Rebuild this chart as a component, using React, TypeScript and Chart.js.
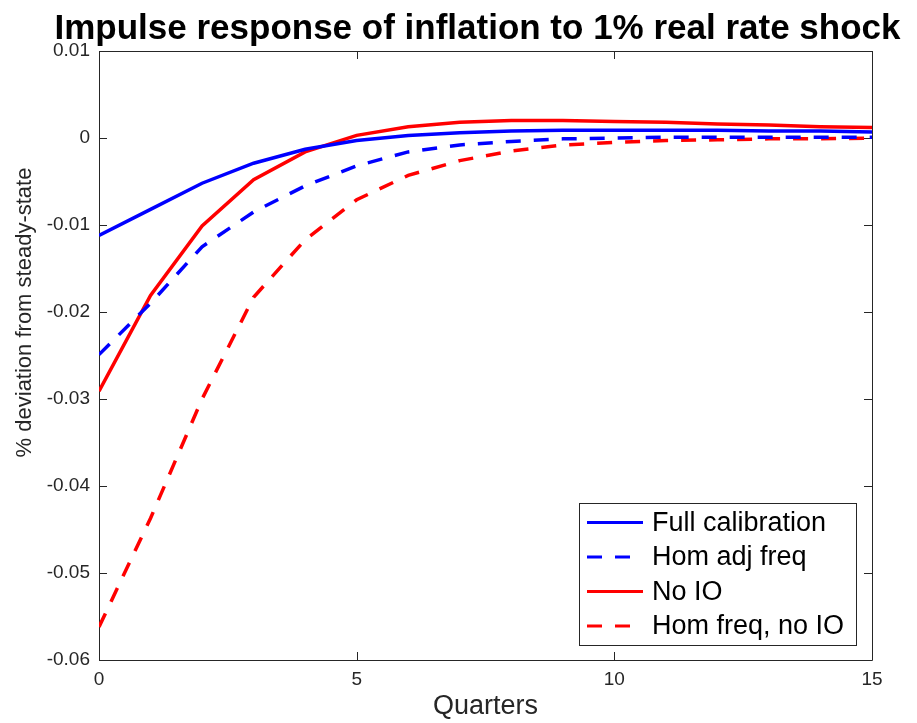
import React, { useEffect, useRef } from "react";
import { Chart, registerables } from "chart.js";

Chart.register(...registerables);

const titleText = "Impulse response of inflation to 1% real rate shock";
const xTitle = "Quarters";
const yTitle = "% deviation from steady-state";

const quarters = [0, 1, 2, 3, 4, 5, 6, 7, 8, 9, 10, 11, 12, 13, 14, 15];

const fullCalibration = [
  -0.0112, -0.0082, -0.0052, -0.0029, -0.0013, -0.0003, 0.0003, 0.0006, 0.0008, 0.0009, 0.0009, 0.0009,
  0.0009, 0.0008, 0.0008, 0.0007,
];
const homAdjFreq = [
  -0.0249, -0.019, -0.0125, -0.0085, -0.0055, -0.0032, -0.0016, -0.0008, -0.0004, -0.0001, 0.0, 0.0001,
  0.0001, 0.0001, 0.0001, 0.0001,
];
const noIO = [
  -0.0291, -0.0181, -0.0101, -0.0048, -0.0016, 0.0003, 0.0013, 0.0018, 0.002, 0.002, 0.0019, 0.0018, 0.0016,
  0.0015, 0.0013, 0.0012,
];
const homFreqNoIO = [
  -0.0562, -0.0437, -0.03, -0.0183, -0.0117, -0.0071, -0.0043, -0.0026, -0.0015, -0.0008, -0.0005, -0.0003,
  -0.0002, -0.0001, -0.0001, 0.0,
];

const seriesNames = ["Full calibration", "Hom adj freq", "No IO", "Hom freq, no IO"];
const seriesColors = ["#0000ff", "#0000ff", "#ff0000", "#ff0000"];
const seriesDashed = [false, true, false, true];

const xMin = 0;
const xMax = 15;
const xStep = 5;
const yMin = -0.06;
const yMax = 0.01;
const yStep = 0.01;

const AXIS_COLOR = "#262626";
const FONT = "'Liberation Sans', Arial, Helvetica, sans-serif";
const DASH = [15, 13];

const framePlugin = {
  id: "matlabFrame",
  beforeDatasetsDraw(chart: any) {
    const { ctx, chartArea } = chart;
    const { left, right, top, bottom } = chartArea;
    const xs = chart.scales.x;
    const ys = chart.scales.y;
    const tl = 8;
    ctx.save();
    ctx.strokeStyle = AXIS_COLOR;
    ctx.lineWidth = 1;
    ctx.beginPath();
    ctx.rect(Math.round(left) + 0.5, Math.round(top) + 0.5, Math.round(right - left), Math.round(bottom - top));
    ctx.stroke();
    ctx.beginPath();
    xs.ticks.forEach((t: any) => {
      const px = Math.round(xs.getPixelForValue(t.value)) + 0.5;
      ctx.moveTo(px, bottom);
      ctx.lineTo(px, bottom - tl);
      ctx.moveTo(px, top);
      ctx.lineTo(px, top + tl);
    });
    ys.ticks.forEach((t: any) => {
      const py = Math.round(ys.getPixelForValue(t.value)) + 0.5;
      ctx.moveTo(left, py);
      ctx.lineTo(left + tl, py);
      ctx.moveTo(right, py);
      ctx.lineTo(right - tl, py);
    });
    ctx.stroke();
    ctx.restore();
  },
  afterDraw(chart: any) {
    const { ctx, chartArea } = chart;
    ctx.save();
    // Title
    ctx.fillStyle = "#000000";
    ctx.font = `bold 35px ${FONT}`;
    ctx.textAlign = "center";
    ctx.textBaseline = "alphabetic";
    ctx.fillText(titleText, (chartArea.left + chartArea.right) / 2 - 8, 39);

    // Y axis title
    ctx.save();
    ctx.translate(25, (chartArea.top + chartArea.bottom) / 2 - 43);
    ctx.rotate(-Math.PI / 2);
    ctx.fillStyle = AXIS_COLOR;
    ctx.font = `22px ${FONT}`;
    ctx.textAlign = "center";
    ctx.textBaseline = "middle";
    ctx.fillText(yTitle, 0, 0);
    ctx.restore();

    // Legend
    const boxRight = chartArea.right - 16;
    const boxBottom = chartArea.bottom - 15;
    const boxW = 277;
    const rowH = 34.5;
    const boxH = 142;
    const boxLeft = boxRight - boxW;
    const boxTop = boxBottom - boxH;
    ctx.fillStyle = "#ffffff";
    ctx.fillRect(boxLeft, boxTop, boxW, boxH);
    ctx.strokeStyle = AXIS_COLOR;
    ctx.lineWidth = 1;
    ctx.strokeRect(Math.round(boxLeft) + 0.5, Math.round(boxTop) + 0.5, Math.round(boxW), Math.round(boxH));
    chart.data.datasets.forEach((ds: any, i: number) => {
      const cy = boxTop + 19.5 + i * rowH;
      ctx.beginPath();
      ctx.strokeStyle = ds.borderColor;
      ctx.lineWidth = 3;
      ctx.setLineDash(ds.borderDash || []);
      ctx.moveTo(boxLeft + 8, cy);
      ctx.lineTo(boxLeft + 64, cy);
      ctx.stroke();
      ctx.setLineDash([]);
      ctx.fillStyle = "#000000";
      ctx.font = `27px ${FONT}`;
      ctx.textAlign = "left";
      ctx.textBaseline = "middle";
      ctx.fillText(ds.label, boxLeft + 73, cy + 1);
    });
    ctx.restore();
  },
};

function fmtY(v: number): string {
  const r = Math.round(v * 100) / 100;
  if (r === 0) return "0";
  return r.toFixed(2);
}

export default function App() {
  const ref = useRef<HTMLCanvasElement | null>(null);

  useEffect(() => {
    if (!ref.current) return;
    const allSeries = [fullCalibration, homAdjFreq, noIO, homFreqNoIO];
    const chart = new Chart(ref.current, {
      type: "line",
      data: {
        datasets: allSeries.map((arr, i) => ({
          label: seriesNames[i],
          data: quarters.map((q, j) => ({ x: q, y: arr[j] })),
          borderColor: seriesColors[i],
          backgroundColor: seriesColors[i],
          borderWidth: 3.5,
          borderDash: seriesDashed[i] ? DASH : [],
          pointRadius: 0,
          tension: 0,
          fill: false,
        })),
      },
      options: {
        responsive: false,
        animation: false,
        layout: { padding: { top: 51, right: 45, left: 0, bottom: 0 } },
        plugins: {
          legend: { display: false },
          title: { display: false },
          tooltip: { enabled: false },
        },
        scales: {
          x: {
            type: "linear",
            min: xMin,
            max: xMax,
            grid: { display: false, drawTicks: false },
            border: { display: false },
            ticks: {
              stepSize: xStep,
              padding: 8,
              color: AXIS_COLOR,
              font: { family: FONT, size: 19 },
              callback: (v: any) => String(v),
            },
            title: {
              display: true,
              text: xTitle,
              color: AXIS_COLOR,
              font: { family: FONT, size: 27 },
              padding: { top: 0, bottom: 0 },
            },
            afterFit: (s: any) => {
              s.height = 63;
            },
          },
          y: {
            type: "linear",
            min: yMin,
            max: yMax,
            grid: { display: false, drawTicks: false },
            border: { display: false },
            ticks: {
              stepSize: yStep,
              padding: 9,
              color: AXIS_COLOR,
              font: { family: FONT, size: 19 },
              callback: (v: any) => fmtY(Number(v)),
            },
            title: { display: false },
            afterFit: (s: any) => {
              s.width = 99;
            },
          },
        },
      },
      plugins: [framePlugin],
    });
    return () => chart.destroy();
  }, []);

  return (
    <div style={{ position: "fixed", left: 0, top: 0, width: 917, height: 723, background: "#ffffff" }}>
      <canvas ref={ref} width={917} height={723} style={{ display: "block", width: 917, height: 723 }} />
    </div>
  );
}
